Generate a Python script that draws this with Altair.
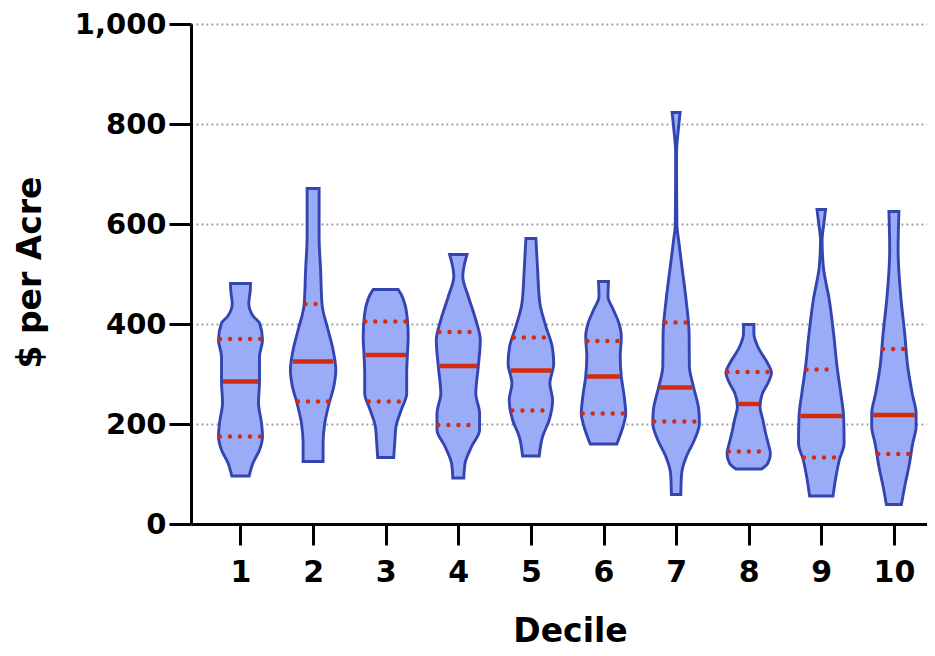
import altair as alt
import numpy as np
import pandas as pd

# ---- data ----
deciles = [1, 2, 3, 4, 5, 6, 7, 8, 9, 10]

# violin outlines: $ per acre level and density (half-width, px-equivalent)
prof_v = {
    1: [96, 122, 148, 175, 202, 242, 285, 335, 368, 402, 415, 441, 468, 481],
    2: [125, 162, 202, 241, 275, 308, 348, 388, 438, 508, 575, 671],
    3: [133, 168, 195, 228, 261, 301, 338, 375, 408, 441, 458, 469],
    4: [92, 121, 155, 188, 221, 261, 315, 368, 408, 455, 495, 521, 539],
    5: [136, 175, 208, 248, 281, 321, 355, 395, 441, 508, 571],
    6: [160, 195, 221, 255, 295, 335, 375, 401, 428, 455, 485],
    7: [59, 101, 135, 168, 201, 228, 275, 315, 381, 448, 515, 560, 600, 700, 745, 790, 823],
    8: [110, 121, 141, 161, 181, 208, 235, 261, 281, 303, 321, 355, 381, 399],
    9: [56, 95, 128, 161, 215, 261, 315, 381, 448, 515, 568, 600, 629],
    10: [39, 75, 115, 161, 195, 221, 261, 315, 381, 448, 548, 625],
}
prof_d = {
    1: [8.7, 12.5, 19, 22, 21, 18, 19, 19, 22, 19, 13, 8.3, 9.8, 10],
    2: [10, 10, 11.7, 16, 20.7, 22.7, 20, 15, 9, 7.5, 6, 6],
    3: [8, 9.2, 10.3, 15.5, 21, 21, 21.7, 22.5, 21.7, 19, 15.8, 12.5],
    4: [5.5, 6.7, 13.3, 21.3, 21.3, 17.5, 20, 22, 17.5, 10, 4.5, 6.3, 8.7],
    5: [8.3, 11.7, 18.3, 21.7, 19, 22.8, 21.3, 15, 9, 6.7, 5],
    6: [13.3, 19.5, 22.2, 20.7, 17.8, 16.7, 17.8, 15.5, 10, 4.5, 5],
    7: [4.7, 5.5, 10.3, 18.3, 23.3, 22.7, 17.3, 13.3, 13, 10, 5.8, 3, 0.8, 0.5, 0.5, 2.3, 4],
    8: [12.8, 19, 21.7, 19.5, 17, 14.2, 11.3, 13.7, 19, 22.8, 19, 9, 5.2, 5.2],
    9: [11.7, 14.7, 18, 22.8, 22.3, 19.5, 15.7, 12.3, 8, 2, 0.8, 2.5, 4.3],
    10: [7.5, 10.8, 15, 18.8, 22.2, 22.2, 18.3, 13.8, 10.8, 7.2, 4.2, 5],
}
q1 = [175, 245, 245, 198, 227, 221, 205, 145, 133, 140]
median = [285, 325, 338, 316, 307, 295, 273, 240, 216, 218]
q3 = [370, 440, 405, 384, 373, 366, 403, 304, 309, 350]

y_ticks = [0, 200, 400, 600, 800, 1000]

# ---- build tables ----
DENS_TO_X = 1 / 72.6  # density units -> decile axis units
INSET = 1.4           # keep red lines inside outline

rows = []
for d in deciles:
    for v, w in zip(prof_v[d], prof_d[d]):
        rows.append({"decile": d, "v": v,
                     "lo": d - w * DENS_TO_X, "hi": d + w * DENS_TO_X})
violins = pd.DataFrame(rows)

def level_rows(vals, kind):
    out = []
    for d, v in zip(deciles, vals):
        w = float(np.interp(v, prof_v[d], prof_d[d])) - INSET
        out.append({"decile": d, "v": v, "kind": kind,
                    "lo": d - w * DENS_TO_X, "hi": d + w * DENS_TO_X})
    return out

med_df = pd.DataFrame(level_rows(median, "median"))
q_df = pd.DataFrame(level_rows(q1, "q1") + level_rows(q3, "q3"))

FONT = "DejaVu Sans"
xscale = alt.Scale(domain=[0.3182, 10.4559], nice=False, zero=False)
yscale = alt.Scale(domain=[0, 1000], nice=False, zero=True)

x_axis = alt.Axis(
    values=deciles, format="d", title="Decile", grid=False,
    domainColor="black", domainWidth=3,
    tickColor="black", tickWidth=3, tickSize=21,
    labelFont=FONT, labelFontWeight="bold", labelFontSize=30,
    labelColor="black", labelPadding=12, labelFlush=False,
    titleFont=FONT, titleFontWeight="bold", titleFontSize=33,
    titleColor="black", titleX=379, titleY=117,
    titleBaseline="alphabetic", titleAlign="center",
)
y_axis = alt.Axis(
    values=y_ticks, format=",d", title="$ per Acre",
    grid=True, gridColor="#9a9a9a", gridDash=[1.8, 3.2], gridWidth=1.8,
    domainColor="black", domainWidth=3,
    tickColor="black", tickWidth=3, tickSize=22,
    labelFont=FONT, labelFontWeight="bold", labelFontSize=29,
    labelColor="black", labelPadding=3, labelFlush=False,
    titleFont=FONT, titleFontWeight="bold", titleFontSize=33,
    titleColor="black", titleX=-151, titleY=248, titleAngle=-90,
    titleBaseline="alphabetic", titleAlign="center",
)

area = alt.Chart(violins).mark_area(
    orient="horizontal", interpolate="monotone",
    fill="#9aabf8", fillOpacity=1, stroke="#3444b0", strokeWidth=2.9,
).encode(
    y=alt.Y("v:Q", scale=yscale, axis=y_axis),
    x=alt.X("lo:Q", scale=xscale, axis=x_axis, stack=False),
    x2="hi:Q",
    detail="decile:N",
)

med = alt.Chart(med_df).mark_rule(
    color="#d42a0e", strokeWidth=4.4,
).encode(y="v:Q", x="lo:Q", x2="hi:Q")

quart = alt.Chart(q_df).mark_rule(
    color="#d42a0e", strokeWidth=4.4, strokeDash=[0.01, 10], strokeCap="round",
).encode(y="v:Q", x="lo:Q", x2="hi:Q")

chart = alt.layer(area, med, quart).properties(
    width=736, height=500,
    autosize=alt.AutoSizeParams(type="none"),
    padding={"left": 183, "top": 16, "right": 0, "bottom": 124},
    background="white",
).configure_view(strokeWidth=0)

chart.save("out.html", embed_options={"renderer": "svg", "actions": False})
